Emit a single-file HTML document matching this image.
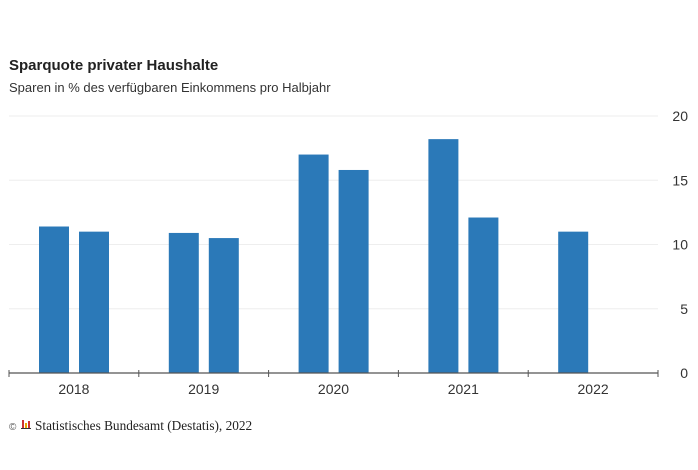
<!DOCTYPE html>
<html><head><meta charset="utf-8"><style>
body{margin:0;background:#fff;width:698px;height:465px;overflow:hidden;font-family:"Liberation Sans",sans-serif}
</style></head><body>
<svg width="698" height="465" xmlns="http://www.w3.org/2000/svg">
<text x="9" y="70" font-size="15" font-weight="bold" fill="#222">Sparquote privater Haushalte</text>
<text x="9" y="92" font-size="13" fill="#333">Sparen in % des verfügbaren Einkommens pro Halbjahr</text>
<g id="grid"></g><g id="bars"></g><g id="axis"></g>
<text x="9" y="430" font-size="10" fill="#555">©</text>
<g><rect x="22" y="420" width="2" height="8" fill="#c33"/><rect x="25" y="423" width="2" height="5" fill="#e8a800"/><rect x="28" y="421" width="2" height="7" fill="#c33"/><rect x="21" y="428" width="10" height="1" fill="#333"/></g>
<text x="35" y="430" font-size="13.3" fill="#222" font-family="Liberation Serif,serif">Statistisches Bundesamt (Destatis), 2022</text>
</svg>
<script>
const years=["2018","2019","2020","2021","2022"];
const h1=[11.4,10.9,17.0,18.2,11.0];
const h2=[11.0,10.5,15.8,12.1,null];
const yTicks=[0,5,10,15,20];
const NS="http://www.w3.org/2000/svg";
const x0=9,x1=658,y0=373,yTop=116,ymax=20;
const gw=(x1-x0)/years.length;
const Y=v=>y0-(y0-yTop)*v/ymax;
function mk(t,a,p){const e=document.createElementNS(NS,t);for(const k in a)e.setAttribute(k,a[k]);p.appendChild(e);return e;}
const grid=document.getElementById('grid'),bars=document.getElementById('bars'),axis=document.getElementById('axis');
yTicks.forEach(t=>{
  if(t>0){const l=mk('line',{x1:x0,x2:x1,y1:Y(t),y2:Y(t),stroke:'#eeeeee','stroke-width':1},grid);
  
  }
  const tx=mk('text',{x:688,y:Y(t)+5,'font-size':14,fill:'#333','text-anchor':'end'},axis);
  tx.textContent=t;
  
  
});
years.forEach((yr,i)=>{
  const gx=x0+i*gw;
  [[h1[i],30],[h2[i],70]].forEach(([v,off])=>{
    if(v==null)return;
    const r=mk('rect',{x:gx+off,y:Y(v),width:30,height:y0-Y(v),fill:'#2b79b8'},bars);
    
    
  });
  const t=mk('text',{x:gx+gw/2,y:394,'font-size':14,fill:'#333','text-anchor':'middle'},axis);
  t.textContent=yr;
  
  
});
const ax=mk('line',{x1:x0,x2:x1,y1:y0,y2:y0,stroke:'#555','stroke-width':1.2},axis);


for(let i=0;i<=years.length;i++){
  const tk=mk('line',{x1:x0+i*gw,x2:x0+i*gw,y1:y0-3,y2:y0+4,stroke:'#555','stroke-width':1},axis);
  
  
}
</script>
</body></html>
